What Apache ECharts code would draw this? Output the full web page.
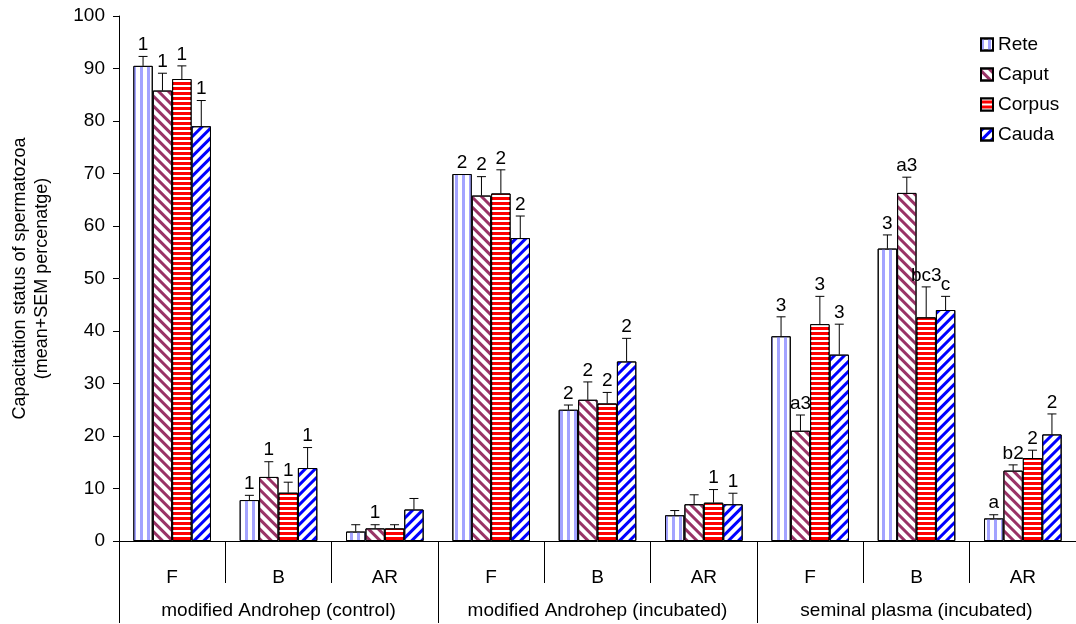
<!DOCTYPE html>
<html>
<head>
<meta charset="utf-8">
<script src="https://cdn.jsdelivr.net/npm/echarts@6/dist/echarts.min.js"></script>
<style>
html,body{margin:0;padding:0;background:#fff;}
#chart{width:1076px;height:624px;}
</style>
</head>
<body>
<div id="chart"></div>
<script>
var categories = ['F','B','AR','F','B','AR','F','B','AR'];
var groups = ['modified Androhep (control)','modified Androhep (incubated)','seminal plasma (incubated)'];
var seriesNames = ['Rete','Caput','Corpus','Cauda'];
var yTicks = [0,10,20,30,40,50,60,70,80,90,100];

var rete      = [90.5, 7.8, 1.8, 69.9, 25.0, 4.9, 39.0, 55.7, 4.3];
var reteErr   = [1.8, 0.9, 1.3, 0.0, 0.9, 0.9, 3.7, 2.6, 0.7];
var reteLbl   = ['1','1','','2','2','','3','3','a'];

var caput     = [85.8, 12.2, 2.4, 65.8, 26.9, 7.0, 21.0, 66.3, 13.4];
var caputErr  = [3.3, 2.9, 0.7, 3.6, 3.4, 1.8, 3.0, 3.0, 1.1];
var caputLbl  = ['1','1','1','2','2','','a3','a3','b2'];

var corpus    = [88.0, 9.2, 2.4, 66.2, 26.2, 7.3, 41.3, 42.6, 15.8];
var corpusErr = [2.5, 2.0, 0.7, 4.5, 2.1, 2.5, 5.3, 5.8, 1.5];
var corpusLbl = ['1','1','','2','2','1','3','bc3','2'];

var cauda     = [79.0, 13.9, 6.0, 57.7, 34.2, 7.0, 35.5, 44.0, 20.3];
var caudaErr  = [4.9, 3.9, 2.1, 4.2, 4.4, 2.1, 5.8, 2.6, 3.9];
var caudaLbl  = ['1','1','','2','2','1','3','c','2'];

var values = [rete, caput, corpus, cauda];
var errs = [reteErr, caputErr, corpusErr, caudaErr];
var lbls = [reteLbl, caputLbl, corpusLbl, caudaLbl];

var FONT = '"Liberation Sans", Arial, sans-serif';
var CAT_GAP = 0.27;

var styles = [
  {color:'#ffffff', decal:{symbol:'rect', symbolSize:1, color:'#a3a3ff', dashArrayX:[3,4], dashArrayY:[1,0], rotation:0}},
  {color:'#ffffff', decal:{symbol:'rect', symbolSize:1, color:'#993366', dashArrayX:[1,0], dashArrayY:[3,4], rotation:Math.PI/4}},
  {color:'#ff0000', decal:{symbol:'rect', symbolSize:1, color:'#ffffff', dashArrayX:[1,0], dashArrayY:[2,3], rotation:0}},
  {color:'#ffffff', decal:{symbol:'rect', symbolSize:1, color:'#0000ff', dashArrayX:[1,0], dashArrayY:[3,4], rotation:-Math.PI/4}}
];

var series = [];
seriesNames.forEach(function(name, i){
  series.push({
    name: name,
    type: 'bar',
    xAxisIndex: 0,
    barGap: '0%',
    barCategoryGap: (CAT_GAP*100)+'%',
    data: values[i],
    itemStyle: {
      color: styles[i].color,
      borderColor: '#000',
      borderWidth: 1,
      decal: styles[i].decal
    },
    emphasis: {disabled: true},
    animation: false
  });
});
seriesNames.forEach(function(name, i){
  series.push({
    type: 'custom',
    xAxisIndex: 0,
    silent: true,
    animation: false,
    z: 5,
    data: values[i].map(function(v, k){ return [k, v, errs[i][k]]; }),
    encode: {x: 0, y: 1},
    renderItem: function(params, api){
      var k = api.value(0), v = api.value(1), e = api.value(2);
      var base = api.coord([k, v]);
      var catW = api.size([1, 0])[0];
      var barW = catW * (1 - CAT_GAP) / 4;
      var xc = base[0] + (i - 1.5) * barW;
      var top = api.coord([k, v + e])[1];
      var children = [];
      if (e > 0) {
        children.push({type:'line', shape:{x1:xc, y1:base[1], x2:xc, y2:top}, style:{stroke:'#000', lineWidth:1}});
        children.push({type:'line', shape:{x1:xc-4.5, y1:top, x2:xc+4.5, y2:top}, style:{stroke:'#000', lineWidth:1}});
      }
      var t = lbls[i][params.dataIndex];
      if (t) {
        children.push({type:'text', x: xc, y: top - 2, style:{text:t, fill:'#000', font:'19px ' + FONT, align:'center', verticalAlign:'bottom'}});
      }
      return {type:'group', children: children};
    }
  });
});

var chart = echarts.init(document.getElementById('chart'));
chart.setOption({
  backgroundColor: '#ffffff',
  animation: false,
  textStyle: {fontFamily: FONT, color: '#000'},
  grid: {left: 119, top: 16, width: 958, height: 525, containLabel: false},
  legend: {
    data: seriesNames,
    orient: 'vertical',
    left: 975,
    top: 30,
    icon: 'rect',
    itemWidth: 12,
    itemHeight: 12,
    itemGap: 11,
    textStyle: {fontSize: 19, fontFamily: FONT, color: '#000'},
    selectedMode: false
  },
  xAxis: [
    {
      type: 'category',
      data: categories,
      position: 'bottom',
      axisLine: {show: true, lineStyle: {color: '#000', width: 1}},
      axisTick: {show: true, interval: 0, length: 42, lineStyle: {color: '#000'}},
      axisLabel: {interval: 0, margin: 27, fontSize: 19, color: '#000', fontFamily: FONT},
      splitLine: {show: false}
    },
    {
      type: 'category',
      data: groups,
      position: 'bottom',
      axisLine: {show: false},
      axisTick: {show: true, interval: 0, length: 82, lineStyle: {color: '#000'}},
      axisLabel: {interval: 0, margin: 60, fontSize: 19, color: '#000', fontFamily: FONT},
      splitLine: {show: false}
    }
  ],
  yAxis: {
    type: 'value',
    min: yTicks[0],
    max: yTicks[yTicks.length-1],
    interval: 10,
    name: 'Capacitation status of spermatozoa\n(mean+SEM percenatge)',
    nameLocation: 'middle',
    nameGap: 66,
    nameTextStyle: {fontSize: 18, lineHeight: 22, color: '#000', fontFamily: FONT},
    axisLine: {show: true, lineStyle: {color: '#000', width: 1}},
    axisTick: {show: true, length: 6, lineStyle: {color: '#000'}},
    axisLabel: {margin: 14, fontSize: 19, color: '#000', fontFamily: FONT},
    splitLine: {show: false}
  },
  series: series
});
</script>
</body>
</html>
